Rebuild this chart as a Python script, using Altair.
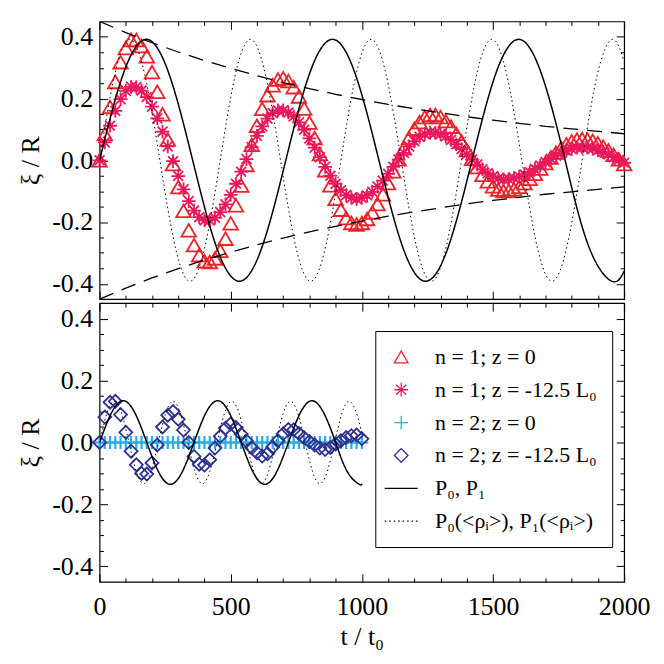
import altair as alt
import pandas as pd

FONT = "Liberation Serif"
W, H_TOP, H_BOT = 527, 279, 280

# ---------------- data ----------------
t_n1 = list(range(0, 2001, 20))
xi_n1_z0 = [
    0.000, 0.085, 0.173, 0.254, 0.318, 0.364, 0.390, 0.390, 0.370, 0.337,
    0.286, 0.222, 0.149, 0.067, -0.012, -0.087, -0.164, -0.227, -0.275, -0.307,
    -0.327, -0.330, -0.318, -0.293, -0.254, -0.204, -0.146, -0.082, -0.015, 0.050,
    0.112, 0.167, 0.211, 0.243, 0.262, 0.266, 0.257, 0.237, 0.207, 0.168,
    0.122, 0.072, 0.020, -0.032, -0.081, -0.125, -0.160, -0.187, -0.203, -0.208,
    -0.203, -0.190, -0.169, -0.142, -0.110, -0.074, -0.036, 0.003, 0.039, 0.073,
    0.102, 0.124, 0.140, 0.147, 0.147, 0.140, 0.127, 0.109, 0.086, 0.061,
    0.033, 0.005, -0.022, -0.047, -0.068, -0.084, -0.095, -0.100, -0.099, -0.094,
    -0.086, -0.074, -0.060, -0.044, -0.027, -0.009, 0.009, 0.025, 0.040, 0.052,
    0.061, 0.067, 0.069, 0.067, 0.063, 0.055, 0.044, 0.032, 0.018, 0.003,
    -0.012]
xi_n1_z125 = [
    0.000, 0.058, 0.112, 0.160, 0.198, 0.225, 0.238, 0.237, 0.226, 0.205,
    0.174, 0.136, 0.093, 0.045, -0.003, -0.051, -0.094, -0.132, -0.163, -0.184,
    -0.195, -0.195, -0.186, -0.168, -0.143, -0.112, -0.076, -0.037, 0.004, 0.043,
    0.079, 0.110, 0.135, 0.153, 0.162, 0.162, 0.155, 0.142, 0.123, 0.099,
    0.071, 0.041, 0.010, -0.021, -0.050, -0.076, -0.097, -0.113, -0.122, -0.125,
    -0.122, -0.114, -0.102, -0.085, -0.066, -0.044, -0.021, 0.002, 0.024, 0.045,
    0.062, 0.076, 0.085, 0.090, 0.089, 0.085, 0.077, 0.066, 0.052, 0.036,
    0.020, 0.002, -0.014, -0.029, -0.042, -0.052, -0.059, -0.062, -0.061, -0.058,
    -0.053, -0.046, -0.038, -0.028, -0.017, -0.006, 0.005, 0.015, 0.024, 0.032,
    0.037, 0.041, 0.042, 0.041, 0.038, 0.033, 0.027, 0.019, 0.010, 0.001,
    -0.008]

t_n2 = list(range(0, 1001, 20))
xi_n2_z0 = [
    0.0, 0.0, 0.0, 0.0, 0.0, 0.0, 0.0, 0.0, 0.0, 0.0,
    0.0, 0.0, 0.0, 0.0, 0.0, 0.0, 0.0, 0.0, 0.0, 0.0,
    0.0, 0.0, 0.0, 0.0, 0.0, 0.0, 0.0, 0.0, 0.0, 0.0,
    0.0, 0.0, 0.0, 0.0, 0.0, 0.0, 0.0, 0.0, 0.0, 0.0,
    0.0, 0.0, 0.0, 0.0, 0.0, 0.0, 0.0, 0.0, 0.0, 0.0,
    0.0]
xi_n2_z125 = [
    0.000, 0.082, 0.130, 0.133, 0.090, 0.033, -0.028, -0.072, -0.100, -0.102,
    -0.066, -0.008, 0.050, 0.088, 0.100, 0.075, 0.040, 0.000, -0.045, -0.070,
    -0.073, -0.056, -0.018, 0.020, 0.046, 0.060, 0.048, 0.027, 0.005, -0.017,
    -0.033, -0.044, -0.036, -0.015, 0.006, 0.028, 0.042, 0.041, 0.029, 0.015,
    0.003, -0.008, -0.018, -0.023, -0.016, -0.005, 0.006, 0.016, 0.022, 0.024,
    0.012]

# theoretical curves (top panel: n = 1)
t_p_top = [0, 89, 178, 266, 355, 444, 533, 621, 710, 799, 888, 976, 1065, 1154,
           1243, 1331, 1420, 1509, 1598, 1686, 1775, 1864, 1953, 2000]
p_top = [0, 0.277, 0.392, 0.277, 0, -0.277, -0.392, -0.277, 0, 0.277, 0.392, 0.277,
         0, -0.277, -0.392, -0.277, 0, 0.277, 0.392, 0.277, 0, -0.277, -0.392, -0.359]
t_pr_top = [0, 57.5, 115, 172.5, 230, 287.5, 345, 402.5, 460, 517.5, 575, 632.5,
            690, 747.5, 805, 862.5, 920, 977.5, 1035, 1092.5, 1150, 1207.5, 1265,
            1322.5, 1380, 1437.5, 1495, 1552.5, 1610, 1667.5, 1725, 1782.5, 1840,
            1897.5, 1955, 2000]
pr_top = [0, 0.277, 0.392, 0.277, 0, -0.277, -0.392, -0.277,
          0, 0.277, 0.392, 0.277, 0, -0.277, -0.392, -0.277,
          0, 0.277, 0.392, 0.277, 0, -0.277, -0.392, -0.277,
          0, 0.277, 0.392, 0.277, 0, -0.277, -0.392, -0.277,
          0, 0.277, 0.392, 0.320]

# theoretical curves (bottom panel: n = 2)
t_p_bot = [0, 45, 90, 135, 180, 225, 270, 315, 360, 405, 450, 495, 540, 585, 630,
           675, 720, 765, 810, 855, 900, 945, 990, 1000]
p_bot = [0, 0.095, 0.135, 0.095, 0, -0.095, -0.135, -0.095,
         0, 0.095, 0.135, 0.095, 0, -0.095, -0.135, -0.095,
         0, 0.095, 0.135, 0.095, 0, -0.095, -0.135, -0.133]
t_pr_bot = [0, 28, 56, 84, 112, 140, 168, 196, 224, 252, 280, 308, 336, 364, 392,
            420, 448, 476, 504, 532, 560, 588, 616, 644, 672, 700, 728, 756, 784,
            812, 840, 868, 896, 924, 952, 980, 1000]
pr_bot = [0, 0.094, 0.133, 0.094, 0, -0.094, -0.133, -0.094,
          0, 0.094, 0.133, 0.094, 0, -0.094, -0.133, -0.094,
          0, 0.094, 0.133, 0.094, 0, -0.094, -0.133, -0.094,
          0, 0.094, 0.133, 0.094, 0, -0.094, -0.133, -0.094,
          0, 0.094, 0.133, 0.094, 0.030]

# damping envelope
t_env = list(range(0, 2001, 100))
env_upper = [0.450, 0.414, 0.381, 0.351, 0.323, 0.298, 0.274, 0.252, 0.232, 0.214,
             0.197, 0.181, 0.167, 0.154, 0.141, 0.130, 0.120, 0.110, 0.102, 0.094,
             0.086]
env_lower = [-0.450, -0.414, -0.381, -0.351, -0.323, -0.298, -0.274, -0.252, -0.232,
             -0.214, -0.197, -0.181, -0.167, -0.154, -0.141, -0.130, -0.120, -0.110,
             -0.102, -0.094, -0.086]

x_major = [0, 500, 1000, 1500, 2000]
x_minor = [100, 200, 300, 400, 600, 700, 800, 900, 1100, 1200, 1300, 1400,
           1600, 1700, 1800, 1900]
y_major = [-0.4, -0.2, 0.0, 0.2, 0.4]
y_minor = [-0.35, -0.3, -0.25, -0.15, -0.1, -0.05, 0.05, 0.1, 0.15, 0.25, 0.3, 0.35]

LAB = ["n = 1; z = 0", "n = 1; z = -12.5 L₀", "n = 2; z = 0",
       "n = 2; z = -12.5 L₀", "P₀,  P₁", "P₀(<ρᵢ>), P₁(<ρᵢ>)"]
COLORS = ["#ec2227", "#e9185c", "#27aee6", "#2e3192", "#000000", "#000000"]
ASTERISK = "M0,-1L0,1M-1,0L1,0M-0.72,-0.72L0.72,0.72M-0.72,0.72L0.72,-0.72"
PLUS = "M-1,0L1,0M0,-1L0,1"
LINE = "M-2.4,0L2.4,0"
SHAPES = ["triangle-up", ASTERISK, PLUS, "diamond", LINE, LINE]
DASHES = [[1, 0], [1, 0], [1, 0], [1, 0], [1, 0], [1.5, 3]]

# ---------------- frames ----------------
def frame(t, xi, label):
    return pd.DataFrame({"t": t, "xi": xi, "series": label})

df_tri = frame(t_n1, xi_n1_z0, LAB[0])
df_ast = frame(t_n1, xi_n1_z125, LAB[1])
df_plus = frame(t_n2, xi_n2_z0, LAB[2])
df_dia = frame(t_n2, xi_n2_z125, LAB[3])
df_p_top = frame(t_p_top, p_top, LAB[4])
df_pr_top = frame(t_pr_top, pr_top, LAB[5])
df_p_bot = frame(t_p_bot, p_bot, LAB[4])
df_pr_bot = frame(t_pr_bot, pr_bot, LAB[5])
df_env = pd.concat([
    pd.DataFrame({"t": t_env, "xi": env_upper, "side": "upper"}),
    pd.DataFrame({"t": t_env, "xi": env_lower, "side": "lower"}),
])
df_dummy = pd.DataFrame({"t": [0], "xi": [0]})

xs = alt.Scale(domain=[0, 2000], nice=False, zero=False)
ys = alt.Scale(domain=[-0.45, 0.45], nice=False, zero=False)
cs = alt.Scale(domain=LAB, range=COLORS)
ss = alt.Scale(domain=LAB, range=SHAPES)
ds = alt.Scale(domain=LAB, range=DASHES)

X = alt.X("t:Q", scale=xs, axis=None)
Y = alt.Y("xi:Q", scale=ys, axis=None)
C = alt.Color("series:N", scale=cs, legend=alt.Legend(title=None))
S = alt.Shape("series:N", scale=ss, legend=alt.Legend(title=None))
D = alt.StrokeDash("series:N", scale=ds, legend=alt.Legend(title=None))


def points(df, size, sw):
    return alt.Chart(df).mark_point(filled=False, size=size, strokeWidth=sw,
                                    opacity=1).encode(x=X, y=Y, color=C, shape=S)


def curve(df, sw):
    return alt.Chart(df).mark_line(strokeWidth=sw, interpolate="natural",
                                   clip=True).encode(x=X, y=Y, color=C, strokeDash=D)


def axes(h, show_x):
    base = alt.Chart(df_dummy).mark_point(opacity=0)
    lab = base.encode(
        x=alt.X("t:Q", scale=xs, axis=alt.Axis(
            orient="bottom", values=x_major, labels=show_x, ticks=False,
            domain=False, grid=False, title="t / t₀" if show_x else None,
            format="d", labelFlush=False, labelPadding=12, titlePadding=4)),
        y=alt.Y("xi:Q", scale=ys, axis=alt.Axis(
            orient="left", values=y_major, ticks=False, domain=False,
            grid=False, title="ξ / R", labelFlush=False, labelPadding=7,
            titlePadding=8,
            labelExpr="datum.value < 0 ? '-' + format(-datum.value, '.1f') : format(datum.value, '.1f')")),
    )

    def ticks(xo, yo, xv, yv, size):
        return base.encode(
            x=alt.X("t:Q", scale=xs, axis=alt.Axis(
                orient=xo, offset=-h, values=xv, tickSize=size, labels=False,
                domain=False, grid=False, title=None)),
            y=alt.Y("xi:Q", scale=ys, axis=alt.Axis(
                orient=yo, offset=-W, values=yv, tickSize=size, labels=False,
                domain=False, grid=False, title=None)),
        )

    return [lab,
            ticks("top", "right", x_major, y_major, 8),
            ticks("top", "right", x_minor, y_minor, 4),
            ticks("bottom", "left", x_major, y_major, 8),
            ticks("bottom", "left", x_minor, y_minor, 4)]


env = alt.Chart(df_env).mark_line(color="black", strokeDash=[15, 9],
                                  strokeWidth=1.3, clip=True).encode(
    x=X, y=Y, detail="side:N")

top = alt.layer(
    points(df_tri, 215, 1.8),
    points(df_ast, 190, 1.8),
    env,
    curve(df_pr_top, 1.0),
    curve(df_p_top, 1.5),
    *axes(H_TOP, False),
).resolve_axis(x="independent", y="independent").properties(width=W, height=H_TOP)

bottom = alt.layer(
    points(df_plus, 170, 2.2),
    points(df_dia, 170, 1.8),
    curve(df_pr_bot, 1.0),
    curve(df_p_bot, 1.5),
    *axes(H_BOT, True),
).resolve_axis(x="independent", y="independent").properties(width=W, height=H_BOT)

chart = alt.vconcat(top, bottom, spacing=0).properties(
    padding={"left": 9, "top": 10, "right": 5, "bottom": 5}
).configure_view(stroke="black", strokeWidth=1.2).configure_axis(
    labelFont=FONT, labelFontSize=26, labelColor="black",
    titleFont=FONT, titleFontSize=26, titleFontWeight="normal", titleColor="black",
    tickColor="black", tickWidth=1,
).configure_legend(
    orient="none", legendX=277, legendY=311, strokeColor="black",
    fillColor="white", padding=15, labelFont=FONT, labelFontSize=22,
    labelColor="black", symbolSize=190, symbolStrokeWidth=1.3, rowPadding=11,
    labelOffset=23, labelLimit=400,
)

chart.save("out.html", embed_options={"renderer": "svg", "actions": False})
